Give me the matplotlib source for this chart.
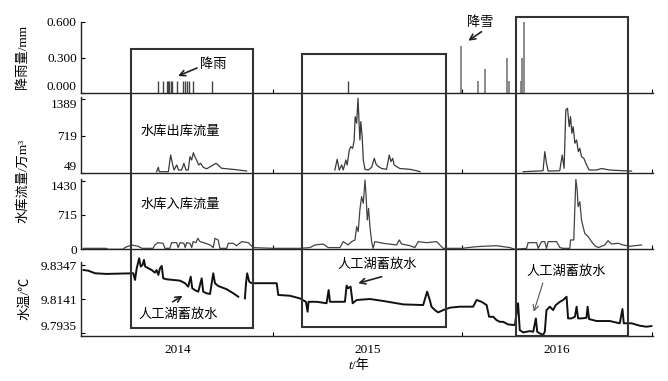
import numpy as np
import matplotlib.pyplot as plt
from matplotlib import transforms
from matplotlib.patches import Rectangle

plt.rcParams['font.family'] = ['Liberation Serif', 'Noto Sans CJK SC']

# ---- rainfall / snowfall (mm), time as decimal year ----
rain_t = [2014.393, 2014.420, 2014.441, 2014.446, 2014.451, 2014.462, 2014.467, 2014.493,
          2014.525, 2014.536, 2014.546, 2014.557, 2014.578, 2014.678, 2015.396]
rain_v = [0.1] * 15
snow_t = [2015.992, 2016.082, 2016.119, 2016.235, 2016.245, 2016.309, 2016.314, 2016.325]
snow_v = [0.4, 0.1, 0.2, 0.3, 0.1, 0.1, 0.3, 0.6]

# ---- reservoir outflow (10^4 m3), three periods ----
out_a_t = [2014.386, 2014.395, 2014.400, 2014.448, 2014.460, 2014.471, 2014.478, 2014.492,
           2014.502, 2014.518, 2014.530, 2014.541, 2014.553, 2014.562, 2014.571, 2014.580,
           2014.588, 2014.597, 2014.608, 2014.618, 2014.632, 2014.650, 2014.685, 2014.699,
           2014.711, 2014.729, 2014.790, 2014.861]
out_a_v = [67, 148, 67, 67, 372, 190, 98, 190, 98, 98, 221, 98, 98, 341, 281, 414, 341, 281,
           190, 221, 148, 120, 190, 221, 190, 130, 110, 80]
out_b_t = [2015.327, 2015.339, 2015.350, 2015.363, 2015.371, 2015.385, 2015.392, 2015.403,
           2015.412, 2015.421, 2015.429, 2015.434, 2015.442, 2015.449, 2015.454, 2015.459,
           2015.464, 2015.471, 2015.477, 2015.486, 2015.503, 2015.521, 2015.535, 2015.544,
           2015.553, 2015.574, 2015.600, 2015.614, 2015.623, 2015.632, 2015.640, 2015.653,
           2015.670, 2015.723, 2015.758, 2015.776]
out_b_v = [98, 294, 98, 190, 98, 281, 190, 463, 524, 494, 646, 1072, 951, 1407, 1011, 646,
           980, 706, 281, 111, 98, 148, 312, 208, 170, 125, 111, 372, 251, 312, 190, 160,
           125, 111, 85, 67]
out_c_t = [2016.321, 2016.392, 2016.426, 2016.435, 2016.444, 2016.453, 2016.514, 2016.527,
           2016.537, 2016.546, 2016.555, 2016.564, 2016.571, 2016.578, 2016.585, 2016.594,
           2016.603, 2016.612, 2016.620, 2016.629, 2016.641, 2016.656, 2016.669, 2016.708,
           2016.735, 2016.778, 2016.849, 2016.893]
out_c_v = [67, 79, 85, 433, 221, 79, 85, 372, 130, 1194, 1225, 889, 1072, 768, 889, 586,
           646, 433, 494, 341, 312, 190, 98, 98, 125, 98, 85, 79]

# ---- reservoir inflow (10^4 m3) ----
inf_t = [2014.000, 2014.119, 2014.129, 2014.208, 2014.219, 2014.235, 2014.256, 2014.272,
         2014.288, 2014.309, 2014.335, 2014.367, 2014.377, 2014.393, 2014.420, 2014.430,
         2014.456, 2014.465, 2014.492, 2014.500, 2014.509, 2014.530, 2014.537, 2014.545,
         2014.562, 2014.571, 2014.579, 2014.594, 2014.603, 2014.615, 2014.641, 2014.668,
         2014.685, 2014.694, 2014.711, 2014.720, 2014.756, 2014.764, 2014.790, 2014.808,
         2014.835, 2014.870, 2014.896, 2015.002, 2015.142, 2015.195, 2015.222, 2015.265,
         2015.292, 2015.354, 2015.371, 2015.397, 2015.415, 2015.433, 2015.442, 2015.450,
         2015.459, 2015.468, 2015.477, 2015.486, 2015.491, 2015.498, 2015.505, 2015.512,
         2015.521, 2015.529, 2015.538, 2015.582, 2015.653, 2015.667, 2015.679, 2015.723,
         2015.749, 2015.767, 2015.811, 2015.864, 2015.881, 2015.899, 2015.996, 2016.075,
         2016.180, 2016.251, 2016.277, 2016.339, 2016.347, 2016.392, 2016.400, 2016.418,
         2016.435, 2016.444, 2016.453, 2016.497, 2016.515, 2016.532, 2016.567, 2016.571,
         2016.588, 2016.599, 2016.606, 2016.611, 2016.620, 2016.629, 2016.637, 2016.646,
         2016.664, 2016.682, 2016.699, 2016.717, 2016.752, 2016.769, 2016.787, 2016.822,
         2016.849, 2016.884, 2016.946]
inf_v = [20, 20, 0, 0, 35, 63, 90, 75, 63, 20,
         20, 20, 90, 138, 125, 20, 20, 138, 138, 35,
         138, 125, 35, 138, 125, 35, 160, 138, 229, 160,
         130, 90, 35, 229, 194, 20, 20, 125, 125, 75,
         160, 138, 35, 20, 20, 35, 90, 110, 35, 35,
         160, 90, 160, 194, 472, 368, 820, 1097, 958, 1445,
         1167, 611, 853, 472, 160, 20, 160, 125, 90, 194,
         110, 75, 35, 160, 138, 160, 90, 20, 20, 55,
         75, 35, 0, 20, 138, 138, 20, 160, 160, 20,
         160, 160, 35, 20, 20, 194, 194, 1460, 1236, 888,
         992, 611, 472, 333, 264, 160, 75, 35, 90, 180,
         110, 125, 90, 63, 90]

# ---- water temperature (deg C), two segments ----
tmp_a_t = [2014.000, 2014.025, 2014.061, 2014.122, 2014.263, 2014.272, 2014.281, 2014.294,
           2014.302, 2014.312, 2014.319, 2014.326, 2014.342, 2014.360, 2014.377, 2014.386,
           2014.395, 2014.404, 2014.413, 2014.421, 2014.439, 2014.474, 2014.509, 2014.536,
           2014.553, 2014.566, 2014.574, 2014.588, 2014.606, 2014.624, 2014.632, 2014.650,
           2014.668, 2014.678, 2014.685, 2014.694, 2014.711, 2014.756, 2014.791, 2014.817]
tmp_a_v = [9.8319, 9.8315, 9.8299, 9.8295, 9.8299, 9.8258, 9.8330, 9.8391, 9.8340, 9.8350,
           9.8381, 9.8340, 9.8330, 9.8319, 9.8303, 9.8319, 9.8289, 9.8330, 9.8344, 9.8268,
           9.8262, 9.8258, 9.8254, 9.8238, 9.8217, 9.8278, 9.8207, 9.8196, 9.8186, 9.8268,
           9.8186, 9.8176, 9.8172, 9.8247, 9.8299, 9.8238, 9.8221, 9.8201, 9.8176, 9.8155]
tmp_b_t = [2014.852, 2014.858, 2014.864, 2014.875, 2014.888, 2015.020, 2015.028, 2015.090,
           2015.142, 2015.174, 2015.183, 2015.188, 2015.231, 2015.283, 2015.294, 2015.301,
           2015.345, 2015.380, 2015.389, 2015.397, 2015.410, 2015.421, 2015.442, 2015.512,
           2015.582, 2015.688, 2015.793, 2015.814, 2015.828, 2015.837, 2015.855, 2015.872,
           2015.899, 2015.934, 2015.987, 2016.004, 2016.057, 2016.075, 2016.101, 2016.128,
           2016.141, 2016.163, 2016.180, 2016.198, 2016.215, 2016.242, 2016.277, 2016.294,
           2016.303, 2016.321, 2016.356, 2016.374, 2016.388, 2016.395, 2016.409, 2016.426,
           2016.435, 2016.444, 2016.462, 2016.479, 2016.493, 2016.515, 2016.532, 2016.550,
           2016.558, 2016.576, 2016.594, 2016.603, 2016.611, 2016.629, 2016.655, 2016.661,
           2016.669, 2016.708, 2016.778, 2016.831, 2016.845, 2016.852, 2016.893, 2016.937,
           2016.972, 2016.998]
tmp_b_v = [9.8145, 9.8238, 9.8299, 9.8247, 9.8238, 9.8238, 9.8166, 9.8161, 9.8145, 9.8124,
           9.8063, 9.8124, 9.8124, 9.8115, 9.8196, 9.8124, 9.8124, 9.8124, 9.8223, 9.8207,
           9.8217, 9.8115, 9.8135, 9.8141, 9.8129, 9.8108, 9.8104, 9.8186, 9.8135, 9.8094,
           9.8073, 9.8059, 9.8073, 9.8088, 9.8094, 9.8094, 9.8094, 9.8135, 9.8124, 9.8104,
           9.8032, 9.8032, 9.8012, 9.8001, 9.8001, 9.7985, 9.7981, 9.8115, 9.7950, 9.7936,
           9.7944, 9.7940, 9.8022, 9.7940, 9.7930, 9.7920, 9.7940, 9.8073, 9.8094, 9.8073,
           9.8104, 9.8124, 9.8135, 9.8155, 9.8022, 9.8022, 9.8032, 9.8094, 9.8022, 9.8022,
           9.8026, 9.8094, 9.8018, 9.8006, 9.8006, 9.7992, 9.8080, 9.7992, 9.7992, 9.7977,
           9.7971, 9.7975]

# highlighted periods (start, end) in decimal years
box_spans = [(2014.251, 2014.894), (2015.151, 2015.911), (2016.281, 2016.875)]
year_labels = ['2014', '2015', '2016']

fig = plt.figure(figsize=(6.68, 3.81), dpi=100)
L, W = 0.1213, 0.8556
ax1 = fig.add_axes([L, 0.7551, W, 0.1879])
ax2 = fig.add_axes([L, 0.5467, W, 0.1987])
ax3 = fig.add_axes([L, 0.3457, W, 0.1845])
ax4 = fig.add_axes([L, 0.1181, W, 0.2074])

for ax in (ax1, ax2, ax3, ax4):
    ax.set_xlim(2013.987, 2017.004)
    for s in ('top', 'right'):
        ax.spines[s].set_visible(False)
    for s in ('left', 'bottom'):
        ax.spines[s].set_linewidth(1.0)
        ax.spines[s].set_color('#222222')
    ax.set_xticks([2015, 2016, 2017])
    ax.tick_params(axis='both', which='major', direction='in', length=3, width=0.8,
                   labelsize=9.5, pad=3, labelbottom=False)
    ax.patch.set_alpha(0)

# panel 1: rain and snow
ax1.vlines(rain_t, 0, rain_v, color='#444444', lw=1.0)
ax1.vlines(snow_t, 0, snow_v, color='#777777', lw=1.2)
ax1.set_ylim(0, 0.6)
ax1.set_yticks([0, 0.3, 0.6], ['0.000', '0.300', '0.600'])
ax1.text(2014.683, 0.237, '降雨', ha='center', va='center', fontsize=9.5)
ax1.annotate('', xy=(2014.499, 0.145), xytext=(2014.599, 0.212),
             arrowprops=dict(arrowstyle='->', lw=1.2, color='#222222', shrinkA=0, shrinkB=0))
ax1.text(2016.092, 0.595, '降雪', ha='center', va='center', fontsize=9.5, clip_on=False)
ax1.annotate('', xy=(2016.031, 0.441), xytext=(2016.101, 0.516),
             arrowprops=dict(arrowstyle='->', lw=1.2, color='#222222', shrinkA=0, shrinkB=0))

# panel 2: outflow
for tt, vv in ((out_a_t, out_a_v), (out_b_t, out_b_v), (out_c_t, out_c_v)):
    ax2.plot(tt, vv, color='#3a3a3a', lw=0.9)
ax2.set_ylim(49, 1430)
ax2.set_yticks([49, 719, 1389])
ax2.text(2014.509, 798, '水库出库流量', ha='center', va='center', fontsize=9.5)

# panel 3: inflow
ax3.plot(inf_t, inf_v, color='#444444', lw=0.9)
ax3.set_ylim(0, 1465)
ax3.set_yticks([0, 715, 1430])
ax3.text(2014.509, 924, '水库入库流量', ha='center', va='center', fontsize=9.5)

# panel 4: water temperature
ax4.plot(tmp_a_t, tmp_a_v, color='#111111', lw=1.4)
ax4.plot(tmp_b_t, tmp_b_v, color='#111111', lw=1.4)
ax4.set_ylim(9.7914, 9.8399)
ax4.spines['left'].set_bounds(9.7914, 9.8368)
ax4.set_yticks([9.7935, 9.8141, 9.8347], ['9.7935', '9.8141', '9.8347'])
ax4.set_xticks([2014.5, 2015.5, 2016.5], year_labels, minor=True)
ax4.tick_params(axis='x', which='minor', length=0, pad=6, labelsize=9.5)

# nudge end labels inward so stacked panels do not collide
ax1.get_yticklabels()[0].set_va('bottom')
ax2.get_yticklabels()[0].set_va('bottom')
ax2.get_yticklabels()[-1].set_va('top')
ax3.get_yticklabels()[-1].set_va('top')
ax4.get_yticklabels()[0].set_va('bottom')

arrow_kw = dict(arrowstyle='->', lw=1.2, color='#222222', shrinkA=0, shrinkB=0)
ax4.text(2014.499, 9.8043, '人工湖蓄放水', ha='center', va='center', fontsize=9.5)
ax4.annotate('', xy=(2014.523, 9.8161), xytext=(2014.471, 9.8124), arrowprops=arrow_kw)
ax4.text(2015.549, 9.8350, '人工湖蓄放水', ha='center', va='center', fontsize=9.5)
ax4.annotate('', xy=(2015.450, 9.8238), xytext=(2015.574, 9.8278), arrowprops=arrow_kw)
ax4.text(2016.546, 9.8309, '人工湖蓄放水', ha='center', va='center', fontsize=9.5)
ax4.annotate('', xy=(2016.377, 9.8063), xytext=(2016.425, 9.8239),
             arrowprops=dict(arrowstyle='->', lw=0.8, color='#555555', shrinkA=0, shrinkB=0))

# boxes spanning all panels: x in data, y in figure fraction
trans = transforms.blended_transform_factory(ax4.transData, fig.transFigure)
box_y = [(0.1399, 0.8706), (0.1417, 0.8583), (0.1170, 0.9562)]
for (x0, x1), (y0, y1) in zip(box_spans, box_y):
    fig.add_artist(Rectangle((x0, y0), x1 - x0, y1 - y0, transform=trans, fill=False,
                             lw=1.5, ec='#333333'))

# axis titles
fig.text(0.034, 0.850, '降雨量/mm', rotation=90, ha='center', va='center', fontsize=9.5)
fig.text(0.034, 0.524, '水库流量/万m³', rotation=90, ha='center', va='center', fontsize=9.5)
fig.text(0.037, 0.218, '水温/℃', rotation=90, ha='center', va='center', fontsize=9.5)
fig.text(0.527, 0.039, 't', style='italic', ha='right', va='center', fontsize=9.5)
fig.text(0.527, 0.039, '/年', ha='left', va='center', fontsize=9.5)

fig.savefig('out.png', dpi=100)
